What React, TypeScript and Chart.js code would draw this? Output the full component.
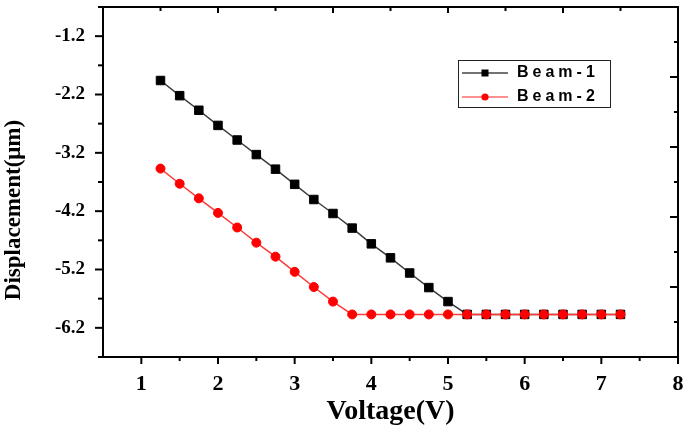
import React, { useEffect, useRef } from 'react';
import { Chart, registerables } from 'chart.js';

Chart.register(...registerables);

// ---------- data ----------
const voltage = [1.25, 1.5, 1.75, 2.0, 2.25, 2.5, 2.75, 3.0, 3.25, 3.5, 3.75, 4.0, 4.25, 4.5, 4.75, 5.0, 5.25, 5.5, 5.75, 6.0, 6.25, 6.5, 6.75, 7.0, 7.25];
const beam1 = [-1.96, -2.22, -2.47, -2.73, -2.98, -3.23, -3.48, -3.74, -4.0, -4.24, -4.49, -4.76, -5.0, -5.26, -5.51, -5.75, -5.97, -5.97, -5.97, -5.97, -5.97, -5.97, -5.97, -5.97, -5.97];
const beam2 = [-3.47, -3.73, -3.98, -4.23, -4.48, -4.74, -4.98, -5.24, -5.5, -5.75, -5.97, -5.97, -5.97, -5.97, -5.97, -5.97, -5.97, -5.97, -5.97, -5.97, -5.97, -5.97, -5.97, -5.97, -5.97];
const seriesLabels = ['Beam-1', 'Beam-2'];

// ---------- axes ----------
const xMin = 0.5;
const xMax = 8;
const yMin = -6.7;
const yMax = -0.7;
const xTickValues = [1, 2, 3, 4, 5, 6, 7, 8];
const xTickLabels = ['1', '2', '3', '4', '5', '6', '7', '8'];
const xMinorTicks = [1.5, 2.5, 3.5, 4.5, 5.5, 6.5, 7.5];
const yTickValues = [-6.2, -5.2, -4.2, -3.2, -2.2, -1.2];
const yTickLabels = ['-6.2', '-5.2', '-4.2', '-3.2', '-2.2', '-1.2'];
const yMinorTicks = [-6.7, -5.7, -4.7, -3.7, -2.7, -1.7, -0.7];
const topMajorTicks = [2, 3.5, 5, 6.5];
const topMinorTicks = [1.25, 2.75, 4.25, 5.75, 7.25];
const rightMajorTicks = [-5.5, -4.3, -3.1, -1.9];
const rightMinorTicks = [-6.1, -4.9, -3.7, -2.5, -1.3];
const xTitle = 'Voltage(V)';
const yTitle = 'Displacement(μm)';

const SERIF = "'Liberation Serif', 'Times New Roman', Times, serif";
const SANS = "'Liberation Sans', Arial, Helvetica, sans-serif";
const LEGEND_SPACING = '4px';

function makeLegendIcon(lineColor: string, markerColor: string, shape: string) {
  const c = document.createElement('canvas');
  c.width = 48;
  c.height = 12;
  const g = c.getContext('2d')!;
  g.strokeStyle = lineColor;
  g.lineWidth = 1.5;
  g.beginPath();
  g.moveTo(1, 6);
  g.lineTo(47, 6);
  g.stroke();
  g.fillStyle = markerColor;
  if (shape === 'rect') {
    g.fillRect(20.5, 2.5, 7, 7);
  } else {
    g.beginPath();
    g.arc(24, 6, 3.6, 0, Math.PI * 2);
    g.fill();
  }
  return c;
}

const framePlugin = {
  id: 'frameTicks',
  beforeDatasetsDraw(chart: any) {
    const { ctx, chartArea } = chart;
    const xs = chart.scales.x;
    const ys = chart.scales.y;
    const { left, right, top, bottom } = chartArea;
    ctx.save();
    ctx.strokeStyle = '#000';
    ctx.lineWidth = 2;
    ctx.lineCap = 'butt';
    ctx.beginPath();
    ctx.rect(left, top, right - left, bottom - top);
    ctx.stroke();
    const seg = (x1: number, y1: number, x2: number, y2: number) => {
      ctx.beginPath();
      ctx.moveTo(x1, y1);
      ctx.lineTo(x2, y2);
      ctx.stroke();
    };
    xTickValues.forEach((v) => { const p = xs.getPixelForValue(v); seg(p, bottom, p, bottom + 7); });
    xMinorTicks.forEach((v) => { const p = xs.getPixelForValue(v); seg(p, bottom, p, bottom + 4); });
    yTickValues.forEach((v) => { const p = ys.getPixelForValue(v); seg(left, p, left - 8, p); });
    yMinorTicks.forEach((v) => { const p = ys.getPixelForValue(v); seg(left, p, left - 5, p); });
    topMajorTicks.forEach((v) => { const p = xs.getPixelForValue(v); seg(p, top, p, top + 6); });
    topMinorTicks.forEach((v) => { const p = xs.getPixelForValue(v); seg(p, top, p, top + 4); });
    rightMajorTicks.forEach((v) => { const p = ys.getPixelForValue(v); seg(right, p, right - 8, p); });
    rightMinorTicks.forEach((v) => { const p = ys.getPixelForValue(v); seg(right, p, right - 4, p); });
    ctx.restore();
  },
};

function withSpacing(chart: any, fn: () => any) {
  const ctx: any = chart.ctx;
  const prev = ctx.letterSpacing;
  ctx.letterSpacing = LEGEND_SPACING;
  const r = fn();
  ctx.letterSpacing = prev || '0px';
  return r;
}

const legendPlugin = {
  id: 'legendPlace',
  afterInit(chart: any) {
    const lg = chart.legend;
    if (!lg || lg.__patched) return;
    lg.__patched = true;
    const origFit = lg.fit.bind(lg);
    const origDraw = lg.draw.bind(lg);
    lg.fit = (...a: any[]) => withSpacing(chart, () => origFit(...a));
    lg.draw = (...a: any[]) => withSpacing(chart, () => origDraw(...a));
  },
  afterLayout(chart: any) {
    const lg = chart.legend;
    if (lg) {
      lg.left = 453;
      lg.top = 57;
      lg.right = lg.left + lg.width;
      lg.bottom = lg.top + 300;
    }
    // shift the y-axis title centre downward (title only; scale pixels are already configured)
    const ys = chart.scales.y;
    if (ys) ys.bottom += 56;
  },
  afterDraw(chart: any) {
    const lg = chart.legend;
    if (!lg) return;
    const ctx = chart.ctx;
    ctx.save();
    ctx.strokeStyle = '#222';
    ctx.lineWidth = 1;
    ctx.strokeRect(lg.left + 5.5, lg.top + 3.5, 152, 47);
    ctx.restore();
  },
};

export default function App() {
  const ref = useRef<HTMLCanvasElement>(null);
  useEffect(() => {
    const icons = [makeLegendIcon('#444', '#000', 'rect'), makeLegendIcon('#ff6b6b', '#ff0000', 'circle')];
    const chart = new Chart(ref.current!, {
      type: 'line',
      data: {
        datasets: [
          {
            label: seriesLabels[0],
            data: voltage.map((x, i) => ({ x, y: beam1[i] })),
            borderColor: '#3c3c3c',
            borderWidth: 1.5,
            backgroundColor: '#000',
            pointStyle: 'rect',
            pointRadius: 6,
            pointBorderWidth: 1,
            pointBorderColor: '#000',
            pointBackgroundColor: '#000',
            tension: 0,
            order: 2,
          },
          {
            label: seriesLabels[1],
            data: voltage.map((x, i) => ({ x, y: beam2[i] })),
            borderColor: '#ff3a3a',
            borderWidth: 1.5,
            backgroundColor: '#ff0000',
            pointStyle: 'circle',
            pointRadius: 4.5,
            pointBorderWidth: 1,
            pointBorderColor: '#ff0000',
            pointBackgroundColor: '#ff0000',
            tension: 0,
            order: 1,
          },
        ],
      },
      options: {
        responsive: false,
        animation: false,
        devicePixelRatio: 1,
        events: [],
        layout: { padding: { left: 0, right: 7, top: 3, bottom: 0 } },
        plugins: {
          tooltip: { enabled: false },
          legend: {
            display: true,
            position: 'chartArea' as any,
            align: 'start',
            labels: {
              usePointStyle: true,
              pointStyleWidth: 48,
              padding: 8,
              color: '#000',
              font: { family: SANS, size: 16, weight: 'bold' },
              generateLabels: (c: any) =>
                c.data.datasets.map((ds: any, i: number) => ({
                  text: ds.label,
                  fillStyle: ds.backgroundColor,
                  strokeStyle: ds.borderColor,
                  lineWidth: 0,
                  pointStyle: icons[i],
                  hidden: false,
                  datasetIndex: i,
                  fontColor: '#000',
                })),
            },
          },
        },
        scales: {
          x: {
            type: 'linear',
            min: xMin,
            max: xMax,
            grid: { display: false, drawTicks: false },
            border: { display: false },
            afterBuildTicks: (s: any) => { s.ticks = xTickValues.map((v) => ({ value: v })); },
            afterFit: (s: any) => { s.height = 72; s.paddingLeft = 0; s.paddingRight = 0; },
            ticks: {
              autoSkip: false,
              maxRotation: 0,
              padding: 14,
              color: '#000',
              font: { family: SERIF, size: 22, weight: 'bold' },
              callback: (v: any) => xTickLabels[xTickValues.indexOf(Number(v))] ?? '',
            },
            title: {
              display: true,
              text: xTitle,
              color: '#000',
              font: { family: SERIF, size: 28, weight: 'bold' },
              padding: { top: 0, bottom: 0 },
            },
          },
          y: {
            type: 'linear',
            min: yMin,
            max: yMax,
            grid: { display: false, drawTicks: false },
            border: { display: false },
            afterBuildTicks: (s: any) => { s.ticks = yTickValues.map((v) => ({ value: v })); },
            afterFit: (s: any) => { s.width = 103; s.paddingTop = 0; s.paddingBottom = 0; },
            ticks: {
              autoSkip: false,
              padding: 18,
              color: '#000',
              font: { family: SERIF, size: 19, weight: 'bold' },
              callback: (v: any) => {
                const i = yTickValues.findIndex((t) => Math.abs(t - Number(v)) < 1e-6);
                return i >= 0 ? yTickLabels[i] : '';
              },
            },
            title: {
              display: true,
              text: yTitle,
              color: '#000',
              font: { family: SERIF, size: 23, weight: 'bold' },
              padding: { top: 0, bottom: 0 },
            },
          },
        },
      },
      plugins: [framePlugin, legendPlugin],
    } as any);
    return () => chart.destroy();
  }, []);
  return (
    <div style={{ position: 'absolute', left: 0, top: 0, width: 685, height: 429, background: '#fff' }}>
      <canvas ref={ref} width={685} height={429} style={{ display: 'block' }} />
    </div>
  );
}
